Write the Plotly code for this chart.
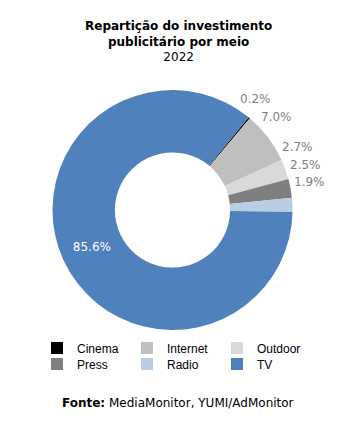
import math
import plotly.graph_objects as go

categories = ["Cinema", "Internet", "Outdoor", "Press", "Radio", "TV"]
values = [0.2, 7.0, 2.7, 2.5, 1.9, 85.6]
colors = ["#000000", "#bfbfbf", "#d9d9d9", "#7f7f7f", "#b9cde5", "#4f81bd"]
outside = [True, True, True, True, True, False]

W, H = 356, 421
ROT = 39.4            # start angle of first slice (deg, clockwise from 12 o'clock)
CX, CY, R = 172.5, 210.0, 120.0

fig = go.Figure()
fig.add_trace(go.Pie(
    labels=categories, values=values, sort=False, direction="clockwise",
    rotation=ROT, hole=0.48,
    marker=dict(colors=colors, line=dict(width=0)),
    texttemplate="%{value:.1f}%",
    textposition=["none" if o else "inside" for o in outside],
    insidetextorientation="horizontal",
    insidetextfont=dict(family="DejaVu Sans", size=12, color="#ffffff"),
    domain=dict(x=[(CX - R) / W, (CX + R) / W], y=[(H - CY - R) / H, (H - CY + R) / H]),
    showlegend=False, automargin=False, hoverinfo="label+percent",
))

# outside data labels, positioned from each slice's mid-angle
annotations = []
total = sum(values)
cum = 0.0
for v, o in zip(values, outside):
    mid = ROT + 360.0 * (cum + v / 2) / total
    cum += v
    if not o:
        continue
    a = math.radians(mid - 7)
    rg = 122
    px = CX + rg * math.sin(a)
    py = CY - rg * math.cos(a)
    annotations.append(dict(
        text=f"{v:.1f}%", x=px / W, y=1 - py / H, xref="paper", yref="paper",
        xanchor="left" if math.sin(a) >= 0 else "right",
        yanchor="bottom" if math.cos(a) >= 0 else "top",
        showarrow=False, borderpad=0,
        font=dict(family="DejaVu Sans", size=12, color="#808080")))

annotations.append(dict(
    text="<b>Repartição do investimento<br>publicitário por meio</b><br>2022",
    x=0.5, y=1 - 41.5 / H, xref="paper", yref="paper", xanchor="center", yanchor="middle",
    showarrow=False, font=dict(family="DejaVu Sans", size=12, color="#000000")))
annotations.append(dict(
    text="<b>Fonte:</b> MediaMonitor, YUMI/AdMonitor",
    x=0.5, xref="paper", y=1 - 403 / H, yref="paper",
    xanchor="center", yanchor="middle", showarrow=False,
    font=dict(family="DejaVu Sans", size=12, color="#000000")))

for i, (c, col) in enumerate(zip(categories, colors)):
    fig.add_trace(go.Scatter(x=[None], y=[None], mode="markers", name=c,
                             marker=dict(symbol="square", size=6, color=col),
                             legend="legend" if i < 3 else "legend2",
                             showlegend=True))

leg_common = dict(orientation="h", x=37 / W, xanchor="left", yanchor="middle",
                  entrywidth=45, entrywidthmode="pixels", itemwidth=30,
                  font=dict(family="Liberation Sans, Arial", size=12, color="#000000"),
                  tracegroupgap=0, itemsizing="constant", bgcolor="rgba(0,0,0,0)")

fig.update_xaxes(visible=False)
fig.update_yaxes(visible=False)
fig.update_layout(
    width=W, height=H, margin=dict(l=0, r=0, t=0, b=0, pad=0, autoexpand=False),
    paper_bgcolor="white", plot_bgcolor="white",
    legend=dict(y=1 - 348 / H, **leg_common),
    legend2=dict(y=1 - 364 / H, **leg_common),
    annotations=annotations,
)
fig.write_html("out.html", config={"displayModeBar": False},
               post_script="document.body.style.margin='0';")
